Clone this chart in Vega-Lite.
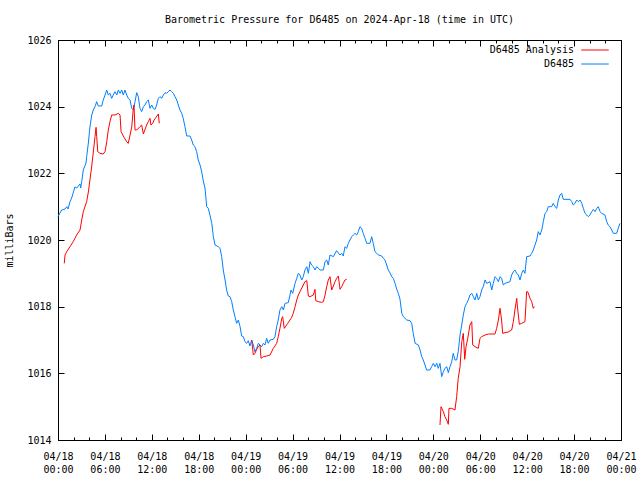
{
  "$schema": "https://vega.github.io/schema/vega-lite/v6.json",
  "width": 563,
  "height": 400,
  "autosize": {"type": "none"},
  "padding": {"left": 58, "top": 40, "right": 19, "bottom": 40},
  "background": "white",
  "title": {"text": "Barometric Pressure for D6485 on 2024-Apr-18 (time in UTC)", "font": "DejaVu Sans Mono", "fontSize": 10, "fontWeight": "normal", "color": "black", "offset": 10},
  "config": {
    "view": {"stroke": "black", "strokeWidth": 1},
    "font": "DejaVu Sans Mono",
    "axis": {"grid": false, "domainColor": "black", "tickColor": "black", "labelColor": "black", "labelFont": "DejaVu Sans Mono", "labelFontSize": 10, "titleFont": "DejaVu Sans Mono", "titleFontSize": 10, "titleFontWeight": "normal", "titleColor": "black"},
    "legend": {"symbolType": "M-2.5,0H2.5", "symbolSize": 121, "symbolStrokeWidth": 1, "labelAlign": "right", "labelOffset": -27, "labelFont": "DejaVu Sans Mono", "labelFontSize": 10, "labelColor": "black", "rowPadding": 3, "padding": 0}
  },
  "datasets": {
    "obs": [
    {"t":"2024-04-18T00:00:00Z","p":1020.7,"s":"D6485","g":"b"},
    {"t":"2024-04-18T00:28:00Z","p":1020.9,"s":"D6485","g":"b"},
    {"t":"2024-04-18T00:54:00Z","p":1020.93,"s":"D6485","g":"b"},
    {"t":"2024-04-18T01:07:00Z","p":1021.0,"s":"D6485","g":"b"},
    {"t":"2024-04-18T01:17:00Z","p":1020.93,"s":"D6485","g":"b"},
    {"t":"2024-04-18T01:32:00Z","p":1021.15,"s":"D6485","g":"b"},
    {"t":"2024-04-18T01:45:00Z","p":1021.26,"s":"D6485","g":"b"},
    {"t":"2024-04-18T02:10:00Z","p":1021.59,"s":"D6485","g":"b"},
    {"t":"2024-04-18T02:23:00Z","p":1021.56,"s":"D6485","g":"b"},
    {"t":"2024-04-18T02:49:00Z","p":1021.68,"s":"D6485","g":"b"},
    {"t":"2024-04-18T02:54:00Z","p":1021.56,"s":"D6485","g":"b"},
    {"t":"2024-04-18T03:02:00Z","p":1021.75,"s":"D6485","g":"b"},
    {"t":"2024-04-18T03:14:00Z","p":1022.1,"s":"D6485","g":"b"},
    {"t":"2024-04-18T03:35:00Z","p":1022.31,"s":"D6485","g":"b"},
    {"t":"2024-04-18T03:40:00Z","p":1022.5,"s":"D6485","g":"b"},
    {"t":"2024-04-18T03:53:00Z","p":1022.91,"s":"D6485","g":"b"},
    {"t":"2024-04-18T04:05:00Z","p":1023.39,"s":"D6485","g":"b"},
    {"t":"2024-04-18T04:19:00Z","p":1023.75,"s":"D6485","g":"b"},
    {"t":"2024-04-18T04:31:00Z","p":1023.9,"s":"D6485","g":"b"},
    {"t":"2024-04-18T04:44:00Z","p":1024.0,"s":"D6485","g":"b"},
    {"t":"2024-04-18T04:57:00Z","p":1024.15,"s":"D6485","g":"b"},
    {"t":"2024-04-18T05:09:00Z","p":1024.02,"s":"D6485","g":"b"},
    {"t":"2024-04-18T05:35:00Z","p":1024.02,"s":"D6485","g":"b"},
    {"t":"2024-04-18T05:47:00Z","p":1024.2,"s":"D6485","g":"b"},
    {"t":"2024-04-18T06:01:00Z","p":1024.35,"s":"D6485","g":"b"},
    {"t":"2024-04-18T06:14:00Z","p":1024.5,"s":"D6485","g":"b"},
    {"t":"2024-04-18T06:26:00Z","p":1024.35,"s":"D6485","g":"b"},
    {"t":"2024-04-18T06:39:00Z","p":1024.4,"s":"D6485","g":"b"},
    {"t":"2024-04-18T06:52:00Z","p":1024.25,"s":"D6485","g":"b"},
    {"t":"2024-04-18T07:04:00Z","p":1024.35,"s":"D6485","g":"b"},
    {"t":"2024-04-18T07:17:00Z","p":1024.45,"s":"D6485","g":"b"},
    {"t":"2024-04-18T07:31:00Z","p":1024.35,"s":"D6485","g":"b"},
    {"t":"2024-04-18T07:43:00Z","p":1024.5,"s":"D6485","g":"b"},
    {"t":"2024-04-18T07:56:00Z","p":1024.4,"s":"D6485","g":"b"},
    {"t":"2024-04-18T08:09:00Z","p":1024.5,"s":"D6485","g":"b"},
    {"t":"2024-04-18T08:21:00Z","p":1024.35,"s":"D6485","g":"b"},
    {"t":"2024-04-18T08:34:00Z","p":1024.5,"s":"D6485","g":"b"},
    {"t":"2024-04-18T08:47:00Z","p":1024.35,"s":"D6485","g":"b"},
    {"t":"2024-04-18T08:59:00Z","p":1024.25,"s":"D6485","g":"b"},
    {"t":"2024-04-18T09:13:00Z","p":1024.2,"s":"D6485","g":"b"},
    {"t":"2024-04-18T09:26:00Z","p":1023.95,"s":"D6485","g":"b"},
    {"t":"2024-04-18T09:38:00Z","p":1023.9,"s":"D6485","g":"b"},
    {"t":"2024-04-18T09:51:00Z","p":1024.15,"s":"D6485","g":"b"},
    {"t":"2024-04-18T10:04:00Z","p":1024.42,"s":"D6485","g":"b"},
    {"t":"2024-04-18T10:16:00Z","p":1024.3,"s":"D6485","g":"b"},
    {"t":"2024-04-18T10:29:00Z","p":1023.95,"s":"D6485","g":"b"},
    {"t":"2024-04-18T10:42:00Z","p":1023.85,"s":"D6485","g":"b"},
    {"t":"2024-04-18T10:55:00Z","p":1024.0,"s":"D6485","g":"b"},
    {"t":"2024-04-18T11:08:00Z","p":1024.05,"s":"D6485","g":"b"},
    {"t":"2024-04-18T11:20:00Z","p":1024.15,"s":"D6485","g":"b"},
    {"t":"2024-04-18T11:33:00Z","p":1024.2,"s":"D6485","g":"b"},
    {"t":"2024-04-18T11:46:00Z","p":1023.95,"s":"D6485","g":"b"},
    {"t":"2024-04-18T11:59:00Z","p":1024.05,"s":"D6485","g":"b"},
    {"t":"2024-04-18T12:11:00Z","p":1023.95,"s":"D6485","g":"b"},
    {"t":"2024-04-18T12:25:00Z","p":1023.92,"s":"D6485","g":"b"},
    {"t":"2024-04-18T12:37:00Z","p":1024.05,"s":"D6485","g":"b"},
    {"t":"2024-04-18T12:50:00Z","p":1024.25,"s":"D6485","g":"b"},
    {"t":"2024-04-18T13:02:00Z","p":1024.3,"s":"D6485","g":"b"},
    {"t":"2024-04-18T13:16:00Z","p":1024.25,"s":"D6485","g":"b"},
    {"t":"2024-04-18T13:28:00Z","p":1024.35,"s":"D6485","g":"b"},
    {"t":"2024-04-18T13:41:00Z","p":1024.42,"s":"D6485","g":"b"},
    {"t":"2024-04-18T13:54:00Z","p":1024.4,"s":"D6485","g":"b"},
    {"t":"2024-04-18T14:07:00Z","p":1024.45,"s":"D6485","g":"b"},
    {"t":"2024-04-18T14:19:00Z","p":1024.5,"s":"D6485","g":"b"},
    {"t":"2024-04-18T14:32:00Z","p":1024.45,"s":"D6485","g":"b"},
    {"t":"2024-04-18T14:45:00Z","p":1024.4,"s":"D6485","g":"b"},
    {"t":"2024-04-18T14:58:00Z","p":1024.3,"s":"D6485","g":"b"},
    {"t":"2024-04-18T15:11:00Z","p":1024.2,"s":"D6485","g":"b"},
    {"t":"2024-04-18T15:23:00Z","p":1024.05,"s":"D6485","g":"b"},
    {"t":"2024-04-18T15:36:00Z","p":1023.9,"s":"D6485","g":"b"},
    {"t":"2024-04-18T15:49:00Z","p":1023.8,"s":"D6485","g":"b"},
    {"t":"2024-04-18T16:01:00Z","p":1023.65,"s":"D6485","g":"b"},
    {"t":"2024-04-18T16:14:00Z","p":1023.4,"s":"D6485","g":"b"},
    {"t":"2024-04-18T16:28:00Z","p":1023.12,"s":"D6485","g":"b"},
    {"t":"2024-04-18T16:53:00Z","p":1023.12,"s":"D6485","g":"b"},
    {"t":"2024-04-18T17:06:00Z","p":1023.0,"s":"D6485","g":"b"},
    {"t":"2024-04-18T17:18:00Z","p":1022.85,"s":"D6485","g":"b"},
    {"t":"2024-04-18T17:31:00Z","p":1022.8,"s":"D6485","g":"b"},
    {"t":"2024-04-18T17:44:00Z","p":1022.65,"s":"D6485","g":"b"},
    {"t":"2024-04-18T17:56:00Z","p":1022.4,"s":"D6485","g":"b"},
    {"t":"2024-04-18T18:10:00Z","p":1022.25,"s":"D6485","g":"b"},
    {"t":"2024-04-18T18:23:00Z","p":1022.04,"s":"D6485","g":"b"},
    {"t":"2024-04-18T18:35:00Z","p":1021.77,"s":"D6485","g":"b"},
    {"t":"2024-04-18T18:48:00Z","p":1021.56,"s":"D6485","g":"b"},
    {"t":"2024-04-18T19:01:00Z","p":1021.0,"s":"D6485","g":"b"},
    {"t":"2024-04-18T19:13:00Z","p":1020.95,"s":"D6485","g":"b"},
    {"t":"2024-04-18T19:26:00Z","p":1020.75,"s":"D6485","g":"b"},
    {"t":"2024-04-18T19:40:00Z","p":1020.5,"s":"D6485","g":"b"},
    {"t":"2024-04-18T19:52:00Z","p":1020.1,"s":"D6485","g":"b"},
    {"t":"2024-04-18T20:05:00Z","p":1019.85,"s":"D6485","g":"b"},
    {"t":"2024-04-18T20:30:00Z","p":1019.8,"s":"D6485","g":"b"},
    {"t":"2024-04-18T20:43:00Z","p":1019.75,"s":"D6485","g":"b"},
    {"t":"2024-04-18T20:56:00Z","p":1019.5,"s":"D6485","g":"b"},
    {"t":"2024-04-18T21:08:00Z","p":1019.1,"s":"D6485","g":"b"},
    {"t":"2024-04-18T21:22:00Z","p":1018.8,"s":"D6485","g":"b"},
    {"t":"2024-04-18T21:34:00Z","p":1018.5,"s":"D6485","g":"b"},
    {"t":"2024-04-18T21:47:00Z","p":1018.32,"s":"D6485","g":"b"},
    {"t":"2024-04-18T22:00:00Z","p":1018.3,"s":"D6485","g":"b"},
    {"t":"2024-04-18T22:13:00Z","p":1018.15,"s":"D6485","g":"b"},
    {"t":"2024-04-18T22:25:00Z","p":1017.9,"s":"D6485","g":"b"},
    {"t":"2024-04-18T22:38:00Z","p":1017.7,"s":"D6485","g":"b"},
    {"t":"2024-04-18T22:51:00Z","p":1017.5,"s":"D6485","g":"b"},
    {"t":"2024-04-18T23:04:00Z","p":1017.6,"s":"D6485","g":"b"},
    {"t":"2024-04-18T23:17:00Z","p":1017.4,"s":"D6485","g":"b"},
    {"t":"2024-04-18T23:29:00Z","p":1017.12,"s":"D6485","g":"b"},
    {"t":"2024-04-18T23:42:00Z","p":1017.1,"s":"D6485","g":"b"},
    {"t":"2024-04-18T23:55:00Z","p":1016.95,"s":"D6485","g":"b"},
    {"t":"2024-04-19T00:08:00Z","p":1016.9,"s":"D6485","g":"b"},
    {"t":"2024-04-19T00:20:00Z","p":1016.98,"s":"D6485","g":"b"},
    {"t":"2024-04-19T00:33:00Z","p":1016.82,"s":"D6485","g":"b"},
    {"t":"2024-04-19T00:46:00Z","p":1017.0,"s":"D6485","g":"b"},
    {"t":"2024-04-19T00:59:00Z","p":1016.85,"s":"D6485","g":"b"},
    {"t":"2024-04-19T01:11:00Z","p":1016.65,"s":"D6485","g":"b"},
    {"t":"2024-04-19T01:25:00Z","p":1016.75,"s":"D6485","g":"b"},
    {"t":"2024-04-19T01:37:00Z","p":1016.9,"s":"D6485","g":"b"},
    {"t":"2024-04-19T01:50:00Z","p":1016.85,"s":"D6485","g":"b"},
    {"t":"2024-04-19T02:03:00Z","p":1016.8,"s":"D6485","g":"b"},
    {"t":"2024-04-19T02:16:00Z","p":1016.9,"s":"D6485","g":"b"},
    {"t":"2024-04-19T02:28:00Z","p":1016.85,"s":"D6485","g":"b"},
    {"t":"2024-04-19T02:41:00Z","p":1017.05,"s":"D6485","g":"b"},
    {"t":"2024-04-19T02:53:00Z","p":1016.9,"s":"D6485","g":"b"},
    {"t":"2024-04-19T03:07:00Z","p":1017.0,"s":"D6485","g":"b"},
    {"t":"2024-04-19T03:32:00Z","p":1017.02,"s":"D6485","g":"b"},
    {"t":"2024-04-19T03:45:00Z","p":1017.1,"s":"D6485","g":"b"},
    {"t":"2024-04-19T03:58:00Z","p":1017.4,"s":"D6485","g":"b"},
    {"t":"2024-04-19T04:10:00Z","p":1017.6,"s":"D6485","g":"b"},
    {"t":"2024-04-19T04:23:00Z","p":1017.9,"s":"D6485","g":"b"},
    {"t":"2024-04-19T04:37:00Z","p":1018.0,"s":"D6485","g":"b"},
    {"t":"2024-04-19T04:49:00Z","p":1017.9,"s":"D6485","g":"b"},
    {"t":"2024-04-19T05:02:00Z","p":1018.1,"s":"D6485","g":"b"},
    {"t":"2024-04-19T05:27:00Z","p":1018.12,"s":"D6485","g":"b"},
    {"t":"2024-04-19T05:40:00Z","p":1018.35,"s":"D6485","g":"b"},
    {"t":"2024-04-19T05:48:00Z","p":1018.5,"s":"D6485","g":"b"},
    {"t":"2024-04-19T06:01:00Z","p":1018.4,"s":"D6485","g":"b"},
    {"t":"2024-04-19T06:19:00Z","p":1018.7,"s":"D6485","g":"b"},
    {"t":"2024-04-19T06:32:00Z","p":1018.85,"s":"D6485","g":"b"},
    {"t":"2024-04-19T06:44:00Z","p":1019.0,"s":"D6485","g":"b"},
    {"t":"2024-04-19T06:57:00Z","p":1018.95,"s":"D6485","g":"b"},
    {"t":"2024-04-19T07:10:00Z","p":1018.8,"s":"D6485","g":"b"},
    {"t":"2024-04-19T07:22:00Z","p":1018.9,"s":"D6485","g":"b"},
    {"t":"2024-04-19T07:35:00Z","p":1019.1,"s":"D6485","g":"b"},
    {"t":"2024-04-19T07:49:00Z","p":1019.2,"s":"D6485","g":"b"},
    {"t":"2024-04-19T08:01:00Z","p":1019.0,"s":"D6485","g":"b"},
    {"t":"2024-04-19T08:14:00Z","p":1019.35,"s":"D6485","g":"b"},
    {"t":"2024-04-19T08:26:00Z","p":1019.25,"s":"D6485","g":"b"},
    {"t":"2024-04-19T08:39:00Z","p":1019.2,"s":"D6485","g":"b"},
    {"t":"2024-04-19T08:52:00Z","p":1019.1,"s":"D6485","g":"b"},
    {"t":"2024-04-19T09:05:00Z","p":1019.2,"s":"D6485","g":"b"},
    {"t":"2024-04-19T09:31:00Z","p":1019.1,"s":"D6485","g":"b"},
    {"t":"2024-04-19T09:56:00Z","p":1019.1,"s":"D6485","g":"b"},
    {"t":"2024-04-19T10:09:00Z","p":1019.35,"s":"D6485","g":"b"},
    {"t":"2024-04-19T10:22:00Z","p":1019.4,"s":"D6485","g":"b"},
    {"t":"2024-04-19T10:34:00Z","p":1019.25,"s":"D6485","g":"b"},
    {"t":"2024-04-19T10:47:00Z","p":1019.55,"s":"D6485","g":"b"},
    {"t":"2024-04-19T11:13:00Z","p":1019.5,"s":"D6485","g":"b"},
    {"t":"2024-04-19T11:38:00Z","p":1019.68,"s":"D6485","g":"b"},
    {"t":"2024-04-19T12:04:00Z","p":1019.55,"s":"D6485","g":"b"},
    {"t":"2024-04-19T12:17:00Z","p":1019.6,"s":"D6485","g":"b"},
    {"t":"2024-04-19T12:29:00Z","p":1019.52,"s":"D6485","g":"b"},
    {"t":"2024-04-19T12:42:00Z","p":1019.8,"s":"D6485","g":"b"},
    {"t":"2024-04-19T12:55:00Z","p":1019.75,"s":"D6485","g":"b"},
    {"t":"2024-04-19T13:08:00Z","p":1019.9,"s":"D6485","g":"b"},
    {"t":"2024-04-19T13:20:00Z","p":1020.0,"s":"D6485","g":"b"},
    {"t":"2024-04-19T13:34:00Z","p":1020.1,"s":"D6485","g":"b"},
    {"t":"2024-04-19T13:46:00Z","p":1020.15,"s":"D6485","g":"b"},
    {"t":"2024-04-19T13:59:00Z","p":1020.2,"s":"D6485","g":"b"},
    {"t":"2024-04-19T14:12:00Z","p":1020.15,"s":"D6485","g":"b"},
    {"t":"2024-04-19T14:24:00Z","p":1020.25,"s":"D6485","g":"b"},
    {"t":"2024-04-19T14:37:00Z","p":1020.4,"s":"D6485","g":"b"},
    {"t":"2024-04-19T14:50:00Z","p":1020.35,"s":"D6485","g":"b"},
    {"t":"2024-04-19T15:02:00Z","p":1020.2,"s":"D6485","g":"b"},
    {"t":"2024-04-19T15:16:00Z","p":1020.05,"s":"D6485","g":"b"},
    {"t":"2024-04-19T15:29:00Z","p":1019.9,"s":"D6485","g":"b"},
    {"t":"2024-04-19T15:54:00Z","p":1019.9,"s":"D6485","g":"b"},
    {"t":"2024-04-19T16:07:00Z","p":1020.1,"s":"D6485","g":"b"},
    {"t":"2024-04-19T16:19:00Z","p":1019.9,"s":"D6485","g":"b"},
    {"t":"2024-04-19T16:32:00Z","p":1019.65,"s":"D6485","g":"b"},
    {"t":"2024-04-19T16:46:00Z","p":1019.6,"s":"D6485","g":"b"},
    {"t":"2024-04-19T16:58:00Z","p":1019.55,"s":"D6485","g":"b"},
    {"t":"2024-04-19T17:24:00Z","p":1019.52,"s":"D6485","g":"b"},
    {"t":"2024-04-19T17:36:00Z","p":1019.45,"s":"D6485","g":"b"},
    {"t":"2024-04-19T17:49:00Z","p":1019.4,"s":"D6485","g":"b"},
    {"t":"2024-04-19T18:02:00Z","p":1019.25,"s":"D6485","g":"b"},
    {"t":"2024-04-19T18:14:00Z","p":1019.1,"s":"D6485","g":"b"},
    {"t":"2024-04-19T18:28:00Z","p":1019.01,"s":"D6485","g":"b"},
    {"t":"2024-04-19T18:41:00Z","p":1018.9,"s":"D6485","g":"b"},
    {"t":"2024-04-19T18:53:00Z","p":1018.85,"s":"D6485","g":"b"},
    {"t":"2024-04-19T19:06:00Z","p":1018.7,"s":"D6485","g":"b"},
    {"t":"2024-04-19T19:19:00Z","p":1018.53,"s":"D6485","g":"b"},
    {"t":"2024-04-19T19:31:00Z","p":1018.4,"s":"D6485","g":"b"},
    {"t":"2024-04-19T19:44:00Z","p":1018.23,"s":"D6485","g":"b"},
    {"t":"2024-04-19T19:58:00Z","p":1017.8,"s":"D6485","g":"b"},
    {"t":"2024-04-19T20:10:00Z","p":1017.7,"s":"D6485","g":"b"},
    {"t":"2024-04-19T20:36:00Z","p":1017.6,"s":"D6485","g":"b"},
    {"t":"2024-04-19T21:01:00Z","p":1017.58,"s":"D6485","g":"b"},
    {"t":"2024-04-19T21:14:00Z","p":1017.5,"s":"D6485","g":"b"},
    {"t":"2024-04-19T21:26:00Z","p":1017.2,"s":"D6485","g":"b"},
    {"t":"2024-04-19T21:40:00Z","p":1016.9,"s":"D6485","g":"b"},
    {"t":"2024-04-19T22:05:00Z","p":1016.85,"s":"D6485","g":"b"},
    {"t":"2024-04-19T22:18:00Z","p":1016.7,"s":"D6485","g":"b"},
    {"t":"2024-04-19T22:31:00Z","p":1016.5,"s":"D6485","g":"b"},
    {"t":"2024-04-19T22:43:00Z","p":1016.4,"s":"D6485","g":"b"},
    {"t":"2024-04-19T23:09:00Z","p":1016.1,"s":"D6485","g":"b"},
    {"t":"2024-04-19T23:34:00Z","p":1016.1,"s":"D6485","g":"b"},
    {"t":"2024-04-19T23:47:00Z","p":1016.2,"s":"D6485","g":"b"},
    {"t":"2024-04-20T00:00:00Z","p":1016.3,"s":"D6485","g":"b"},
    {"t":"2024-04-20T00:13:00Z","p":1016.2,"s":"D6485","g":"b"},
    {"t":"2024-04-20T00:26:00Z","p":1016.3,"s":"D6485","g":"b"},
    {"t":"2024-04-20T00:38:00Z","p":1016.15,"s":"D6485","g":"b"},
    {"t":"2024-04-20T00:51:00Z","p":1016.3,"s":"D6485","g":"b"},
    {"t":"2024-04-20T01:04:00Z","p":1015.9,"s":"D6485","g":"b"},
    {"t":"2024-04-20T01:17:00Z","p":1016.05,"s":"D6485","g":"b"},
    {"t":"2024-04-20T01:29:00Z","p":1016.15,"s":"D6485","g":"b"},
    {"t":"2024-04-20T01:43:00Z","p":1016.2,"s":"D6485","g":"b"},
    {"t":"2024-04-20T01:55:00Z","p":1016.02,"s":"D6485","g":"b"},
    {"t":"2024-04-20T02:08:00Z","p":1016.2,"s":"D6485","g":"b"},
    {"t":"2024-04-20T02:21:00Z","p":1016.35,"s":"D6485","g":"b"},
    {"t":"2024-04-20T02:33:00Z","p":1016.6,"s":"D6485","g":"b"},
    {"t":"2024-04-20T02:46:00Z","p":1016.4,"s":"D6485","g":"b"},
    {"t":"2024-04-20T02:59:00Z","p":1016.4,"s":"D6485","g":"b"},
    {"t":"2024-04-20T03:11:00Z","p":1016.65,"s":"D6485","g":"b"},
    {"t":"2024-04-20T03:25:00Z","p":1017.15,"s":"D6485","g":"b"},
    {"t":"2024-04-20T03:38:00Z","p":1017.45,"s":"D6485","g":"b"},
    {"t":"2024-04-20T03:50:00Z","p":1017.75,"s":"D6485","g":"b"},
    {"t":"2024-04-20T04:03:00Z","p":1018.0,"s":"D6485","g":"b"},
    {"t":"2024-04-20T04:16:00Z","p":1018.1,"s":"D6485","g":"b"},
    {"t":"2024-04-20T04:28:00Z","p":1018.2,"s":"D6485","g":"b"},
    {"t":"2024-04-20T04:41:00Z","p":1018.35,"s":"D6485","g":"b"},
    {"t":"2024-04-20T04:55:00Z","p":1018.4,"s":"D6485","g":"b"},
    {"t":"2024-04-20T05:07:00Z","p":1018.3,"s":"D6485","g":"b"},
    {"t":"2024-04-20T05:20:00Z","p":1018.2,"s":"D6485","g":"b"},
    {"t":"2024-04-20T05:33:00Z","p":1018.4,"s":"D6485","g":"b"},
    {"t":"2024-04-20T05:45:00Z","p":1018.2,"s":"D6485","g":"b"},
    {"t":"2024-04-20T05:58:00Z","p":1018.3,"s":"D6485","g":"b"},
    {"t":"2024-04-20T06:11:00Z","p":1018.5,"s":"D6485","g":"b"},
    {"t":"2024-04-20T06:23:00Z","p":1018.6,"s":"D6485","g":"b"},
    {"t":"2024-04-20T06:37:00Z","p":1018.8,"s":"D6485","g":"b"},
    {"t":"2024-04-20T06:50:00Z","p":1018.7,"s":"D6485","g":"b"},
    {"t":"2024-04-20T07:15:00Z","p":1018.75,"s":"D6485","g":"b"},
    {"t":"2024-04-20T07:28:00Z","p":1018.5,"s":"D6485","g":"b"},
    {"t":"2024-04-20T07:40:00Z","p":1018.7,"s":"D6485","g":"b"},
    {"t":"2024-04-20T07:53:00Z","p":1018.9,"s":"D6485","g":"b"},
    {"t":"2024-04-20T08:06:00Z","p":1018.85,"s":"D6485","g":"b"},
    {"t":"2024-04-20T08:19:00Z","p":1018.75,"s":"D6485","g":"b"},
    {"t":"2024-04-20T08:32:00Z","p":1018.9,"s":"D6485","g":"b"},
    {"t":"2024-04-20T08:44:00Z","p":1018.85,"s":"D6485","g":"b"},
    {"t":"2024-04-20T08:57:00Z","p":1018.65,"s":"D6485","g":"b"},
    {"t":"2024-04-20T09:10:00Z","p":1018.7,"s":"D6485","g":"b"},
    {"t":"2024-04-20T09:48:00Z","p":1018.75,"s":"D6485","g":"b"},
    {"t":"2024-04-20T10:01:00Z","p":1018.95,"s":"D6485","g":"b"},
    {"t":"2024-04-20T10:14:00Z","p":1019.05,"s":"D6485","g":"b"},
    {"t":"2024-04-20T10:26:00Z","p":1019.1,"s":"D6485","g":"b"},
    {"t":"2024-04-20T10:40:00Z","p":1019.0,"s":"D6485","g":"b"},
    {"t":"2024-04-20T10:52:00Z","p":1018.95,"s":"D6485","g":"b"},
    {"t":"2024-04-20T11:05:00Z","p":1018.8,"s":"D6485","g":"b"},
    {"t":"2024-04-20T11:18:00Z","p":1019.0,"s":"D6485","g":"b"},
    {"t":"2024-04-20T11:31:00Z","p":1019.1,"s":"D6485","g":"b"},
    {"t":"2024-04-20T11:43:00Z","p":1019.0,"s":"D6485","g":"b"},
    {"t":"2024-04-20T11:56:00Z","p":1019.5,"s":"D6485","g":"b"},
    {"t":"2024-04-20T12:22:00Z","p":1019.52,"s":"D6485","g":"b"},
    {"t":"2024-04-20T12:35:00Z","p":1019.6,"s":"D6485","g":"b"},
    {"t":"2024-04-20T12:47:00Z","p":1019.7,"s":"D6485","g":"b"},
    {"t":"2024-04-20T13:00:00Z","p":1019.85,"s":"D6485","g":"b"},
    {"t":"2024-04-20T13:13:00Z","p":1020.0,"s":"D6485","g":"b"},
    {"t":"2024-04-20T13:25:00Z","p":1020.25,"s":"D6485","g":"b"},
    {"t":"2024-04-20T13:38:00Z","p":1020.15,"s":"D6485","g":"b"},
    {"t":"2024-04-20T13:52:00Z","p":1020.3,"s":"D6485","g":"b"},
    {"t":"2024-04-20T14:04:00Z","p":1020.55,"s":"D6485","g":"b"},
    {"t":"2024-04-20T14:17:00Z","p":1020.8,"s":"D6485","g":"b"},
    {"t":"2024-04-20T14:30:00Z","p":1020.85,"s":"D6485","g":"b"},
    {"t":"2024-04-20T14:42:00Z","p":1021.0,"s":"D6485","g":"b"},
    {"t":"2024-04-20T15:08:00Z","p":1021.0,"s":"D6485","g":"b"},
    {"t":"2024-04-20T15:20:00Z","p":1021.1,"s":"D6485","g":"b"},
    {"t":"2024-04-20T15:34:00Z","p":1021.0,"s":"D6485","g":"b"},
    {"t":"2024-04-20T15:47:00Z","p":1020.95,"s":"D6485","g":"b"},
    {"t":"2024-04-20T15:59:00Z","p":1021.2,"s":"D6485","g":"b"},
    {"t":"2024-04-20T16:12:00Z","p":1021.35,"s":"D6485","g":"b"},
    {"t":"2024-04-20T16:25:00Z","p":1021.4,"s":"D6485","g":"b"},
    {"t":"2024-04-20T16:37:00Z","p":1021.22,"s":"D6485","g":"b"},
    {"t":"2024-04-20T17:29:00Z","p":1021.22,"s":"D6485","g":"b"},
    {"t":"2024-04-20T17:42:00Z","p":1021.15,"s":"D6485","g":"b"},
    {"t":"2024-04-20T17:54:00Z","p":1021.05,"s":"D6485","g":"b"},
    {"t":"2024-04-20T18:07:00Z","p":1021.1,"s":"D6485","g":"b"},
    {"t":"2024-04-20T18:20:00Z","p":1021.2,"s":"D6485","g":"b"},
    {"t":"2024-04-20T18:32:00Z","p":1021.15,"s":"D6485","g":"b"},
    {"t":"2024-04-20T18:46:00Z","p":1021.2,"s":"D6485","g":"b"},
    {"t":"2024-04-20T18:59:00Z","p":1021.1,"s":"D6485","g":"b"},
    {"t":"2024-04-20T19:11:00Z","p":1020.95,"s":"D6485","g":"b"},
    {"t":"2024-04-20T19:24:00Z","p":1020.8,"s":"D6485","g":"b"},
    {"t":"2024-04-20T19:37:00Z","p":1020.75,"s":"D6485","g":"b"},
    {"t":"2024-04-20T19:49:00Z","p":1020.7,"s":"D6485","g":"b"},
    {"t":"2024-04-20T20:02:00Z","p":1020.75,"s":"D6485","g":"b"},
    {"t":"2024-04-20T20:15:00Z","p":1020.85,"s":"D6485","g":"b"},
    {"t":"2024-04-20T20:28:00Z","p":1020.92,"s":"D6485","g":"b"},
    {"t":"2024-04-20T20:41:00Z","p":1020.85,"s":"D6485","g":"b"},
    {"t":"2024-04-20T20:54:00Z","p":1020.95,"s":"D6485","g":"b"},
    {"t":"2024-04-20T21:06:00Z","p":1021.0,"s":"D6485","g":"b"},
    {"t":"2024-04-20T21:19:00Z","p":1020.85,"s":"D6485","g":"b"},
    {"t":"2024-04-20T21:32:00Z","p":1020.8,"s":"D6485","g":"b"},
    {"t":"2024-04-20T21:57:00Z","p":1020.75,"s":"D6485","g":"b"},
    {"t":"2024-04-20T22:10:00Z","p":1020.55,"s":"D6485","g":"b"},
    {"t":"2024-04-20T22:22:00Z","p":1020.45,"s":"D6485","g":"b"},
    {"t":"2024-04-20T22:35:00Z","p":1020.4,"s":"D6485","g":"b"},
    {"t":"2024-04-20T22:49:00Z","p":1020.3,"s":"D6485","g":"b"},
    {"t":"2024-04-20T23:01:00Z","p":1020.2,"s":"D6485","g":"b"},
    {"t":"2024-04-20T23:27:00Z","p":1020.2,"s":"D6485","g":"b"},
    {"t":"2024-04-20T23:39:00Z","p":1020.35,"s":"D6485","g":"b"},
    {"t":"2024-04-20T23:52:00Z","p":1020.5,"s":"D6485","g":"b"},
    {"t":"2024-04-18T00:48:00Z","p":1019.3,"s":"D6485 Analysis","g":"r1"},
    {"t":"2024-04-18T00:54:00Z","p":1019.55,"s":"D6485 Analysis","g":"r1"},
    {"t":"2024-04-18T01:07:00Z","p":1019.65,"s":"D6485 Analysis","g":"r1"},
    {"t":"2024-04-18T01:32:00Z","p":1019.8,"s":"D6485 Analysis","g":"r1"},
    {"t":"2024-04-18T01:57:00Z","p":1019.95,"s":"D6485 Analysis","g":"r1"},
    {"t":"2024-04-18T02:23:00Z","p":1020.15,"s":"D6485 Analysis","g":"r1"},
    {"t":"2024-04-18T02:49:00Z","p":1020.3,"s":"D6485 Analysis","g":"r1"},
    {"t":"2024-04-18T03:02:00Z","p":1020.6,"s":"D6485 Analysis","g":"r1"},
    {"t":"2024-04-18T03:14:00Z","p":1020.85,"s":"D6485 Analysis","g":"r1"},
    {"t":"2024-04-18T03:40:00Z","p":1021.15,"s":"D6485 Analysis","g":"r1"},
    {"t":"2024-04-18T03:53:00Z","p":1021.44,"s":"D6485 Analysis","g":"r1"},
    {"t":"2024-04-18T04:05:00Z","p":1021.8,"s":"D6485 Analysis","g":"r1"},
    {"t":"2024-04-18T04:19:00Z","p":1022.22,"s":"D6485 Analysis","g":"r1"},
    {"t":"2024-04-18T04:31:00Z","p":1022.64,"s":"D6485 Analysis","g":"r1"},
    {"t":"2024-04-18T04:44:00Z","p":1023.1,"s":"D6485 Analysis","g":"r1"},
    {"t":"2024-04-18T04:52:00Z","p":1023.38,"s":"D6485 Analysis","g":"r1"},
    {"t":"2024-04-18T04:57:00Z","p":1023.1,"s":"D6485 Analysis","g":"r1"},
    {"t":"2024-04-18T05:05:00Z","p":1022.65,"s":"D6485 Analysis","g":"r1"},
    {"t":"2024-04-18T05:22:00Z","p":1022.6,"s":"D6485 Analysis","g":"r1"},
    {"t":"2024-04-18T05:47:00Z","p":1022.58,"s":"D6485 Analysis","g":"r1"},
    {"t":"2024-04-18T06:01:00Z","p":1022.65,"s":"D6485 Analysis","g":"r1"},
    {"t":"2024-04-18T06:14:00Z","p":1022.95,"s":"D6485 Analysis","g":"r1"},
    {"t":"2024-04-18T06:26:00Z","p":1023.3,"s":"D6485 Analysis","g":"r1"},
    {"t":"2024-04-18T06:39:00Z","p":1023.55,"s":"D6485 Analysis","g":"r1"},
    {"t":"2024-04-18T06:52:00Z","p":1023.75,"s":"D6485 Analysis","g":"r1"},
    {"t":"2024-04-18T07:17:00Z","p":1023.75,"s":"D6485 Analysis","g":"r1"},
    {"t":"2024-04-18T07:43:00Z","p":1023.8,"s":"D6485 Analysis","g":"r1"},
    {"t":"2024-04-18T07:56:00Z","p":1023.75,"s":"D6485 Analysis","g":"r1"},
    {"t":"2024-04-18T08:04:00Z","p":1023.25,"s":"D6485 Analysis","g":"r1"},
    {"t":"2024-04-18T08:21:00Z","p":1023.12,"s":"D6485 Analysis","g":"r1"},
    {"t":"2024-04-18T08:47:00Z","p":1022.95,"s":"D6485 Analysis","g":"r1"},
    {"t":"2024-04-18T08:59:00Z","p":1022.9,"s":"D6485 Analysis","g":"r1"},
    {"t":"2024-04-18T09:13:00Z","p":1023.15,"s":"D6485 Analysis","g":"r1"},
    {"t":"2024-04-18T09:26:00Z","p":1023.4,"s":"D6485 Analysis","g":"r1"},
    {"t":"2024-04-18T09:38:00Z","p":1023.95,"s":"D6485 Analysis","g":"r1"},
    {"t":"2024-04-18T09:43:00Z","p":1024.05,"s":"D6485 Analysis","g":"r1"},
    {"t":"2024-04-18T09:51:00Z","p":1023.3,"s":"D6485 Analysis","g":"r1"},
    {"t":"2024-04-18T10:04:00Z","p":1023.3,"s":"D6485 Analysis","g":"r1"},
    {"t":"2024-04-18T10:29:00Z","p":1023.4,"s":"D6485 Analysis","g":"r1"},
    {"t":"2024-04-18T10:42:00Z","p":1023.45,"s":"D6485 Analysis","g":"r1"},
    {"t":"2024-04-18T10:55:00Z","p":1023.18,"s":"D6485 Analysis","g":"r1"},
    {"t":"2024-04-18T11:20:00Z","p":1023.45,"s":"D6485 Analysis","g":"r1"},
    {"t":"2024-04-18T11:33:00Z","p":1023.55,"s":"D6485 Analysis","g":"r1"},
    {"t":"2024-04-18T11:46:00Z","p":1023.65,"s":"D6485 Analysis","g":"r1"},
    {"t":"2024-04-18T11:53:00Z","p":1023.45,"s":"D6485 Analysis","g":"r1"},
    {"t":"2024-04-18T12:07:00Z","p":1023.5,"s":"D6485 Analysis","g":"r1"},
    {"t":"2024-04-18T12:17:00Z","p":1023.6,"s":"D6485 Analysis","g":"r1"},
    {"t":"2024-04-18T12:32:00Z","p":1023.68,"s":"D6485 Analysis","g":"r1"},
    {"t":"2024-04-18T12:50:00Z","p":1023.78,"s":"D6485 Analysis","g":"r1"},
    {"t":"2024-04-18T12:57:00Z","p":1023.5,"s":"D6485 Analysis","g":"r1"},
    {"t":"2024-04-19T00:46:00Z","p":1017.0,"s":"D6485 Analysis","g":"r2"},
    {"t":"2024-04-19T00:59:00Z","p":1016.55,"s":"D6485 Analysis","g":"r2"},
    {"t":"2024-04-19T01:11:00Z","p":1016.6,"s":"D6485 Analysis","g":"r2"},
    {"t":"2024-04-19T01:25:00Z","p":1016.72,"s":"D6485 Analysis","g":"r2"},
    {"t":"2024-04-19T01:37:00Z","p":1016.8,"s":"D6485 Analysis","g":"r2"},
    {"t":"2024-04-19T01:50:00Z","p":1016.85,"s":"D6485 Analysis","g":"r2"},
    {"t":"2024-04-19T01:58:00Z","p":1016.45,"s":"D6485 Analysis","g":"r2"},
    {"t":"2024-04-19T02:16:00Z","p":1016.5,"s":"D6485 Analysis","g":"r2"},
    {"t":"2024-04-19T02:41:00Z","p":1016.52,"s":"D6485 Analysis","g":"r2"},
    {"t":"2024-04-19T03:07:00Z","p":1016.55,"s":"D6485 Analysis","g":"r2"},
    {"t":"2024-04-19T03:32:00Z","p":1016.75,"s":"D6485 Analysis","g":"r2"},
    {"t":"2024-04-19T03:45:00Z","p":1016.82,"s":"D6485 Analysis","g":"r2"},
    {"t":"2024-04-19T03:58:00Z","p":1016.9,"s":"D6485 Analysis","g":"r2"},
    {"t":"2024-04-19T04:10:00Z","p":1017.1,"s":"D6485 Analysis","g":"r2"},
    {"t":"2024-04-19T04:23:00Z","p":1017.35,"s":"D6485 Analysis","g":"r2"},
    {"t":"2024-04-19T04:37:00Z","p":1017.65,"s":"D6485 Analysis","g":"r2"},
    {"t":"2024-04-19T04:44:00Z","p":1017.7,"s":"D6485 Analysis","g":"r2"},
    {"t":"2024-04-19T04:56:00Z","p":1017.35,"s":"D6485 Analysis","g":"r2"},
    {"t":"2024-04-19T05:23:00Z","p":1017.5,"s":"D6485 Analysis","g":"r2"},
    {"t":"2024-04-19T05:53:00Z","p":1017.68,"s":"D6485 Analysis","g":"r2"},
    {"t":"2024-04-19T06:05:00Z","p":1017.8,"s":"D6485 Analysis","g":"r2"},
    {"t":"2024-04-19T06:19:00Z","p":1018.0,"s":"D6485 Analysis","g":"r2"},
    {"t":"2024-04-19T06:32:00Z","p":1018.2,"s":"D6485 Analysis","g":"r2"},
    {"t":"2024-04-19T06:44:00Z","p":1018.35,"s":"D6485 Analysis","g":"r2"},
    {"t":"2024-04-19T06:57:00Z","p":1018.45,"s":"D6485 Analysis","g":"r2"},
    {"t":"2024-04-19T07:22:00Z","p":1018.65,"s":"D6485 Analysis","g":"r2"},
    {"t":"2024-04-19T07:35:00Z","p":1018.75,"s":"D6485 Analysis","g":"r2"},
    {"t":"2024-04-19T07:49:00Z","p":1018.78,"s":"D6485 Analysis","g":"r2"},
    {"t":"2024-04-19T08:01:00Z","p":1018.32,"s":"D6485 Analysis","g":"r2"},
    {"t":"2024-04-19T08:14:00Z","p":1018.3,"s":"D6485 Analysis","g":"r2"},
    {"t":"2024-04-19T08:39:00Z","p":1018.35,"s":"D6485 Analysis","g":"r2"},
    {"t":"2024-04-19T08:52:00Z","p":1018.52,"s":"D6485 Analysis","g":"r2"},
    {"t":"2024-04-19T08:58:00Z","p":1018.18,"s":"D6485 Analysis","g":"r2"},
    {"t":"2024-04-19T09:17:00Z","p":1018.15,"s":"D6485 Analysis","g":"r2"},
    {"t":"2024-04-19T09:43:00Z","p":1018.13,"s":"D6485 Analysis","g":"r2"},
    {"t":"2024-04-19T09:56:00Z","p":1018.15,"s":"D6485 Analysis","g":"r2"},
    {"t":"2024-04-19T10:09:00Z","p":1018.35,"s":"D6485 Analysis","g":"r2"},
    {"t":"2024-04-19T10:22:00Z","p":1018.6,"s":"D6485 Analysis","g":"r2"},
    {"t":"2024-04-19T10:34:00Z","p":1018.8,"s":"D6485 Analysis","g":"r2"},
    {"t":"2024-04-19T10:47:00Z","p":1018.9,"s":"D6485 Analysis","g":"r2"},
    {"t":"2024-04-19T11:00:00Z","p":1018.5,"s":"D6485 Analysis","g":"r2"},
    {"t":"2024-04-19T11:13:00Z","p":1018.62,"s":"D6485 Analysis","g":"r2"},
    {"t":"2024-04-19T11:26:00Z","p":1018.75,"s":"D6485 Analysis","g":"r2"},
    {"t":"2024-04-19T11:38:00Z","p":1018.85,"s":"D6485 Analysis","g":"r2"},
    {"t":"2024-04-19T11:51:00Z","p":1018.92,"s":"D6485 Analysis","g":"r2"},
    {"t":"2024-04-19T12:04:00Z","p":1018.52,"s":"D6485 Analysis","g":"r2"},
    {"t":"2024-04-19T12:17:00Z","p":1018.6,"s":"D6485 Analysis","g":"r2"},
    {"t":"2024-04-19T12:29:00Z","p":1018.7,"s":"D6485 Analysis","g":"r2"},
    {"t":"2024-04-19T12:42:00Z","p":1018.8,"s":"D6485 Analysis","g":"r2"},
    {"t":"2024-04-19T12:55:00Z","p":1018.82,"s":"D6485 Analysis","g":"r2"},
    {"t":"2024-04-20T00:51:00Z","p":1014.45,"s":"D6485 Analysis","g":"r3"},
    {"t":"2024-04-20T00:59:00Z","p":1015.0,"s":"D6485 Analysis","g":"r3"},
    {"t":"2024-04-20T01:17:00Z","p":1014.85,"s":"D6485 Analysis","g":"r3"},
    {"t":"2024-04-20T01:29:00Z","p":1014.7,"s":"D6485 Analysis","g":"r3"},
    {"t":"2024-04-20T01:43:00Z","p":1014.6,"s":"D6485 Analysis","g":"r3"},
    {"t":"2024-04-20T01:55:00Z","p":1014.47,"s":"D6485 Analysis","g":"r3"},
    {"t":"2024-04-20T02:00:00Z","p":1014.95,"s":"D6485 Analysis","g":"r3"},
    {"t":"2024-04-20T02:21:00Z","p":1014.95,"s":"D6485 Analysis","g":"r3"},
    {"t":"2024-04-20T02:46:00Z","p":1014.9,"s":"D6485 Analysis","g":"r3"},
    {"t":"2024-04-20T02:59:00Z","p":1015.3,"s":"D6485 Analysis","g":"r3"},
    {"t":"2024-04-20T03:11:00Z","p":1015.85,"s":"D6485 Analysis","g":"r3"},
    {"t":"2024-04-20T03:25:00Z","p":1016.2,"s":"D6485 Analysis","g":"r3"},
    {"t":"2024-04-20T03:38:00Z","p":1016.95,"s":"D6485 Analysis","g":"r3"},
    {"t":"2024-04-20T03:50:00Z","p":1017.2,"s":"D6485 Analysis","g":"r3"},
    {"t":"2024-04-20T04:01:00Z","p":1016.42,"s":"D6485 Analysis","g":"r3"},
    {"t":"2024-04-20T04:11:00Z","p":1016.8,"s":"D6485 Analysis","g":"r3"},
    {"t":"2024-04-20T04:24:00Z","p":1017.05,"s":"D6485 Analysis","g":"r3"},
    {"t":"2024-04-20T04:41:00Z","p":1017.45,"s":"D6485 Analysis","g":"r3"},
    {"t":"2024-04-20T04:55:00Z","p":1017.55,"s":"D6485 Analysis","g":"r3"},
    {"t":"2024-04-20T05:02:00Z","p":1016.85,"s":"D6485 Analysis","g":"r3"},
    {"t":"2024-04-20T05:20:00Z","p":1016.8,"s":"D6485 Analysis","g":"r3"},
    {"t":"2024-04-20T05:45:00Z","p":1016.75,"s":"D6485 Analysis","g":"r3"},
    {"t":"2024-04-20T05:58:00Z","p":1017.05,"s":"D6485 Analysis","g":"r3"},
    {"t":"2024-04-20T06:11:00Z","p":1017.1,"s":"D6485 Analysis","g":"r3"},
    {"t":"2024-04-20T06:37:00Z","p":1017.15,"s":"D6485 Analysis","g":"r3"},
    {"t":"2024-04-20T07:02:00Z","p":1017.18,"s":"D6485 Analysis","g":"r3"},
    {"t":"2024-04-20T07:53:00Z","p":1017.18,"s":"D6485 Analysis","g":"r3"},
    {"t":"2024-04-20T08:06:00Z","p":1017.35,"s":"D6485 Analysis","g":"r3"},
    {"t":"2024-04-20T08:19:00Z","p":1017.6,"s":"D6485 Analysis","g":"r3"},
    {"t":"2024-04-20T08:32:00Z","p":1017.95,"s":"D6485 Analysis","g":"r3"},
    {"t":"2024-04-20T08:44:00Z","p":1017.6,"s":"D6485 Analysis","g":"r3"},
    {"t":"2024-04-20T08:52:00Z","p":1017.2,"s":"D6485 Analysis","g":"r3"},
    {"t":"2024-04-20T09:10:00Z","p":1017.22,"s":"D6485 Analysis","g":"r3"},
    {"t":"2024-04-20T09:35:00Z","p":1017.24,"s":"D6485 Analysis","g":"r3"},
    {"t":"2024-04-20T10:01:00Z","p":1017.3,"s":"D6485 Analysis","g":"r3"},
    {"t":"2024-04-20T10:14:00Z","p":1017.55,"s":"D6485 Analysis","g":"r3"},
    {"t":"2024-04-20T10:26:00Z","p":1017.9,"s":"D6485 Analysis","g":"r3"},
    {"t":"2024-04-20T10:40:00Z","p":1018.25,"s":"D6485 Analysis","g":"r3"},
    {"t":"2024-04-20T10:44:00Z","p":1018.05,"s":"D6485 Analysis","g":"r3"},
    {"t":"2024-04-20T11:00:00Z","p":1017.47,"s":"D6485 Analysis","g":"r3"},
    {"t":"2024-04-20T11:18:00Z","p":1017.5,"s":"D6485 Analysis","g":"r3"},
    {"t":"2024-04-20T11:43:00Z","p":1017.55,"s":"D6485 Analysis","g":"r3"},
    {"t":"2024-04-20T11:56:00Z","p":1018.45,"s":"D6485 Analysis","g":"r3"},
    {"t":"2024-04-20T12:04:00Z","p":1018.45,"s":"D6485 Analysis","g":"r3"},
    {"t":"2024-04-20T12:22:00Z","p":1018.25,"s":"D6485 Analysis","g":"r3"},
    {"t":"2024-04-20T12:35:00Z","p":1018.15,"s":"D6485 Analysis","g":"r3"},
    {"t":"2024-04-20T12:47:00Z","p":1017.95,"s":"D6485 Analysis","g":"r3"},
    {"t":"2024-04-20T12:55:00Z","p":1018.0,"s":"D6485 Analysis","g":"r3"}
    ]
  },
  "data": {"name": "obs"},
  "layer": [
    {
      "mark": {"type": "line", "strokeWidth": 1},
      "encoding": {
        "x": {"field": "t", "type": "temporal",
          "scale": {"type": "utc", "nice": false, "domain": [{"year": 2024, "month": 4, "date": 18, "utc": true}, {"year": 2024, "month": 4, "date": 21, "utc": true}]},
          "axis": {"orient": "bottom", "title": null, "tickSize": -6, "format": "%m/%d %H:%M",
            "values": [
              {"year": 2024, "month": 4, "date": 18, "hours": 0, "utc": true},
              {"year": 2024, "month": 4, "date": 18, "hours": 6, "utc": true},
              {"year": 2024, "month": 4, "date": 18, "hours": 12, "utc": true},
              {"year": 2024, "month": 4, "date": 18, "hours": 18, "utc": true},
              {"year": 2024, "month": 4, "date": 19, "hours": 0, "utc": true},
              {"year": 2024, "month": 4, "date": 19, "hours": 6, "utc": true},
              {"year": 2024, "month": 4, "date": 19, "hours": 12, "utc": true},
              {"year": 2024, "month": 4, "date": 19, "hours": 18, "utc": true},
              {"year": 2024, "month": 4, "date": 20, "hours": 0, "utc": true},
              {"year": 2024, "month": 4, "date": 20, "hours": 6, "utc": true},
              {"year": 2024, "month": 4, "date": 20, "hours": 12, "utc": true},
              {"year": 2024, "month": 4, "date": 20, "hours": 18, "utc": true},
              {"year": 2024, "month": 4, "date": 21, "hours": 0, "utc": true}
            ],
            "labelExpr": "split(datum.label, ' ')",
            "labelOverlap": false, "labelFlush": false, "labelPadding": 17, "labelLineHeight": 13}},
        "y": {"field": "p", "type": "quantitative",
          "scale": {"domain": [1014, 1026], "nice": false, "zero": false},
          "axis": {"orient": "left", "title": "milliBars", "format": "d", "values": [1014, 1016, 1018, 1020, 1022, 1024, 1026], "tickSize": -6, "labelPadding": 13, "titlePadding": 12}},
        "color": {"field": "s", "type": "nominal",
          "scale": {"domain": ["D6485 Analysis", "D6485"], "range": ["#ff0000", "#0080ff"]},
          "legend": {"orient": "none", "legendX": 531, "legendY": 4, "title": null}},
        "detail": {"field": "g", "type": "nominal"}
      }
    },
    {
      "mark": {"type": "line", "opacity": 0},
      "encoding": {
        "x": {"field": "t", "type": "temporal",
          "axis": {"orient": "top", "title": null, "labels": false, "tickSize": -6,
            "values": [
              {"year": 2024, "month": 4, "date": 18, "hours": 0, "utc": true},
              {"year": 2024, "month": 4, "date": 18, "hours": 6, "utc": true},
              {"year": 2024, "month": 4, "date": 18, "hours": 12, "utc": true},
              {"year": 2024, "month": 4, "date": 18, "hours": 18, "utc": true},
              {"year": 2024, "month": 4, "date": 19, "hours": 0, "utc": true},
              {"year": 2024, "month": 4, "date": 19, "hours": 6, "utc": true},
              {"year": 2024, "month": 4, "date": 19, "hours": 12, "utc": true},
              {"year": 2024, "month": 4, "date": 19, "hours": 18, "utc": true},
              {"year": 2024, "month": 4, "date": 20, "hours": 0, "utc": true},
              {"year": 2024, "month": 4, "date": 20, "hours": 6, "utc": true},
              {"year": 2024, "month": 4, "date": 20, "hours": 12, "utc": true},
              {"year": 2024, "month": 4, "date": 20, "hours": 18, "utc": true},
              {"year": 2024, "month": 4, "date": 21, "hours": 0, "utc": true}
            ]}},
        "y": {"field": "p", "type": "quantitative",
          "axis": {"orient": "right", "title": null, "labels": false, "values": [1014, 1016, 1018, 1020, 1022, 1024, 1026], "tickSize": -6}},
        "detail": {"field": "g", "type": "nominal"}
      }
    },
    {
      "mark": {"type": "line", "opacity": 0},
      "encoding": {
        "x": {"field": "t", "type": "temporal",
          "axis": {"orient": "bottom", "title": null, "labels": false, "domain": false, "tickSize": -3,
            "values": [
              {"year": 2024, "month": 4, "date": 18, "hours": 2, "utc": true},
              {"year": 2024, "month": 4, "date": 18, "hours": 4, "utc": true},
              {"year": 2024, "month": 4, "date": 18, "hours": 8, "utc": true},
              {"year": 2024, "month": 4, "date": 18, "hours": 10, "utc": true},
              {"year": 2024, "month": 4, "date": 18, "hours": 14, "utc": true},
              {"year": 2024, "month": 4, "date": 18, "hours": 16, "utc": true},
              {"year": 2024, "month": 4, "date": 18, "hours": 20, "utc": true},
              {"year": 2024, "month": 4, "date": 18, "hours": 22, "utc": true},
              {"year": 2024, "month": 4, "date": 19, "hours": 2, "utc": true},
              {"year": 2024, "month": 4, "date": 19, "hours": 4, "utc": true},
              {"year": 2024, "month": 4, "date": 19, "hours": 8, "utc": true},
              {"year": 2024, "month": 4, "date": 19, "hours": 10, "utc": true},
              {"year": 2024, "month": 4, "date": 19, "hours": 14, "utc": true},
              {"year": 2024, "month": 4, "date": 19, "hours": 16, "utc": true},
              {"year": 2024, "month": 4, "date": 19, "hours": 20, "utc": true},
              {"year": 2024, "month": 4, "date": 19, "hours": 22, "utc": true},
              {"year": 2024, "month": 4, "date": 20, "hours": 2, "utc": true},
              {"year": 2024, "month": 4, "date": 20, "hours": 4, "utc": true},
              {"year": 2024, "month": 4, "date": 20, "hours": 8, "utc": true},
              {"year": 2024, "month": 4, "date": 20, "hours": 10, "utc": true},
              {"year": 2024, "month": 4, "date": 20, "hours": 14, "utc": true},
              {"year": 2024, "month": 4, "date": 20, "hours": 16, "utc": true},
              {"year": 2024, "month": 4, "date": 20, "hours": 20, "utc": true},
              {"year": 2024, "month": 4, "date": 20, "hours": 22, "utc": true}
            ]}},
        "y": {"field": "p", "type": "quantitative", "axis": null},
        "detail": {"field": "g", "type": "nominal"}
      }
    },
    {
      "mark": {"type": "line", "opacity": 0},
      "encoding": {
        "x": {"field": "t", "type": "temporal",
          "axis": {"orient": "top", "title": null, "labels": false, "domain": false, "tickSize": -3,
            "values": [
              {"year": 2024, "month": 4, "date": 18, "hours": 2, "utc": true},
              {"year": 2024, "month": 4, "date": 18, "hours": 4, "utc": true},
              {"year": 2024, "month": 4, "date": 18, "hours": 8, "utc": true},
              {"year": 2024, "month": 4, "date": 18, "hours": 10, "utc": true},
              {"year": 2024, "month": 4, "date": 18, "hours": 14, "utc": true},
              {"year": 2024, "month": 4, "date": 18, "hours": 16, "utc": true},
              {"year": 2024, "month": 4, "date": 18, "hours": 20, "utc": true},
              {"year": 2024, "month": 4, "date": 18, "hours": 22, "utc": true},
              {"year": 2024, "month": 4, "date": 19, "hours": 2, "utc": true},
              {"year": 2024, "month": 4, "date": 19, "hours": 4, "utc": true},
              {"year": 2024, "month": 4, "date": 19, "hours": 8, "utc": true},
              {"year": 2024, "month": 4, "date": 19, "hours": 10, "utc": true},
              {"year": 2024, "month": 4, "date": 19, "hours": 14, "utc": true},
              {"year": 2024, "month": 4, "date": 19, "hours": 16, "utc": true},
              {"year": 2024, "month": 4, "date": 19, "hours": 20, "utc": true},
              {"year": 2024, "month": 4, "date": 19, "hours": 22, "utc": true},
              {"year": 2024, "month": 4, "date": 20, "hours": 2, "utc": true},
              {"year": 2024, "month": 4, "date": 20, "hours": 4, "utc": true},
              {"year": 2024, "month": 4, "date": 20, "hours": 8, "utc": true},
              {"year": 2024, "month": 4, "date": 20, "hours": 10, "utc": true},
              {"year": 2024, "month": 4, "date": 20, "hours": 14, "utc": true},
              {"year": 2024, "month": 4, "date": 20, "hours": 16, "utc": true},
              {"year": 2024, "month": 4, "date": 20, "hours": 20, "utc": true},
              {"year": 2024, "month": 4, "date": 20, "hours": 22, "utc": true}
            ]}},
        "y": {"field": "p", "type": "quantitative", "axis": null},
        "detail": {"field": "g", "type": "nominal"}
      }
    }
  ],
  "resolve": {"axis": {"x": "independent", "y": "independent"}}
}
